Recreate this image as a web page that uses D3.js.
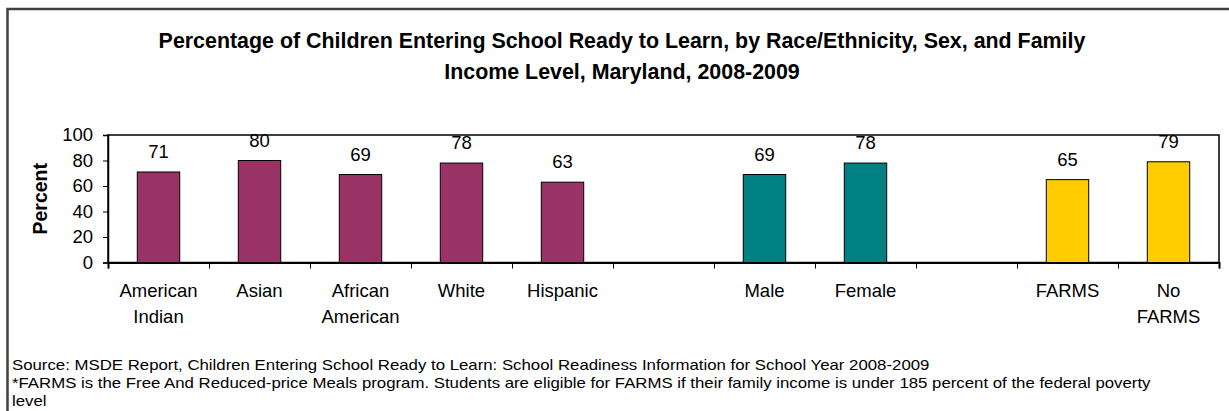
<!DOCTYPE html>
<html>
<head>
<meta charset="utf-8">
<script src="https://cdn.jsdelivr.net/npm/d3@7"></script>
<style>
  body { margin: 0; background: #fff; }
  svg { display: block; font-family: "Liberation Sans", Arial, sans-serif; }
</style>
</head>
<body>
<div id="chart"></div>
<script>
// chart data
var titleLines = ["Percentage of Children Entering School Ready to Learn, by Race/Ethnicity, Sex, and Family",
                  "Income Level, Maryland, 2008-2009"];
var categories = ["American Indian", "Asian", "African American", "White", "Hispanic", "",
                  "Male", "Female", "", "FARMS", "No FARMS"];
var categoryLines = [["American", "Indian"], ["Asian"], ["African", "American"], ["White"], ["Hispanic"], [],
                     ["Male"], ["Female"], [], ["FARMS"], ["No", "FARMS"]];
var values = [71, 80, 69, 78, 63, null, 69, 78, null, 65, 79];
var groups = ["race", "race", "race", "race", "race", null, "sex", "sex", null, "income", "income"];
var groupColors = {race: "#993366", sex: "#008080", income: "#FFCC00"};
var yTicks = [0, 20, 40, 60, 80, 100];
var notes = ["Source: MSDE Report, Children Entering School Ready to Learn: School Readiness Information for School Year 2008-2009",
             "*FARMS is the Free And Reduced-price Meals program. Students are eligible for FARMS if their family income is under 185 percent of the federal poverty",
             "level"];

var W = 1229, H = 411;
var margin = {top: 135, left: 108, right: 10, bottom: 149};

var svg = d3.select("#chart").append("svg")
    .attr("width", W)
    .attr("height", H);

// outer border (only left and top show inside the picture)
svg.append("rect")
    .attr("x", 7.5).attr("y", 9)
    .attr("width", 1300).attr("height", 500)
    .attr("fill", "none")
    .attr("stroke", "#404040")
    .attr("stroke-width", 2.5);

// title
svg.append("g").selectAll("text")
    .data(titleLines)
  .enter().append("text")
    .attr("x", 622)
    .attr("y", function(d, i) { return 48 + i * 31; })
    .attr("text-anchor", "middle")
    .attr("font-size", 21.4)
    .attr("font-weight", "bold")
    .text(function(d) { return d; });

var x = d3.scaleBand()
    .domain(d3.range(categories.length))
    .range([margin.left, W - margin.right])
    .paddingInner(0.58)
    .paddingOuter(0.29);

// boundaries between categories, for the tick marks
var xb = d3.scaleLinear()
    .domain([0, categories.length])
    .range([margin.left, W - margin.right]);

var y = d3.scaleLinear()
    .domain([0, 100])
    .range([H - margin.bottom + 0.5, margin.top]);

// plot frame
svg.append("rect")
    .attr("x", margin.left)
    .attr("y", y(100))
    .attr("width", W - margin.right - margin.left)
    .attr("height", y(0) - y(100))
    .attr("fill", "none")
    .attr("stroke", "#000")
    .attr("stroke-width", 1.5);

// bars
var barData = values.map(function(v, i) { return {i: i, v: v, g: groups[i]}; })
    .filter(function(d) { return d.v != null; });

svg.append("g").selectAll("rect")
    .data(barData)
  .enter().append("rect")
    .attr("x", function(d) { return x(d.i); })
    .attr("y", function(d) { return y(d.v); })
    .attr("width", x.bandwidth())
    .attr("height", function(d) { return y(0) - y(d.v); })
    .attr("fill", function(d) { return groupColors[d.g]; })
    .attr("stroke", "#000")
    .attr("stroke-width", 1);

// value labels
svg.append("g").selectAll("text")
    .data(barData)
  .enter().append("text")
    .attr("x", function(d) { return x(d.i) + x.bandwidth() / 2; })
    .attr("y", function(d) { return y(d.v) - 14; })
    .attr("text-anchor", "middle")
    .attr("font-size", 18.5)
    .text(function(d) { return d.v; });

// y axis
var yAxis = svg.append("g")
    .attr("transform", "translate(" + margin.left + ",0)")
    .call(d3.axisLeft(y).tickValues(yTicks).tickSize(5).tickPadding(10));
yAxis.select(".domain").attr("stroke-width", 1.5);
yAxis.selectAll("text").attr("font-size", 18.5).attr("fill", "#000").attr("font-family", null);

// x axis, ticks on the category boundaries
var xAxis = svg.append("g")
    .attr("transform", "translate(0," + y(0) + ")")
    .call(d3.axisBottom(xb).tickValues(d3.range(categories.length + 1)).tickFormat("").tickSize(6));
xAxis.select(".domain").attr("stroke-width", 2);

// category labels
var catG = svg.append("g").selectAll("text")
    .data(categoryLines)
  .enter().append("text")
    .attr("text-anchor", "middle")
    .attr("font-size", 18.5)
    .attr("x", function(d, i) { return x(i) + x.bandwidth() / 2; })
    .attr("y", 297);
catG.selectAll("tspan")
    .data(function(d) { return d; })
  .enter().append("tspan")
    .attr("x", function() { return d3.select(this.parentNode).attr("x"); })
    .attr("dy", function(d, j) { return j === 0 ? 0 : 26; })
    .text(function(d) { return d; });

// y label
svg.append("text")
    .attr("transform", "translate(47," + ((y(0) + y(100)) / 2) + ") rotate(-90)")
    .attr("text-anchor", "middle")
    .attr("font-size", 19.5)
    .attr("font-weight", "bold")
    .text("Percent");

// footnotes
svg.append("g").selectAll("text")
    .data(notes)
  .enter().append("text")
    .attr("transform", function(d, i) { return "translate(12," + (369.5 + i * 18.3) + ") scale(1.2,1)"; })
    .attr("font-size", 14)
    .text(function(d) { return d; });
</script>
</body>
</html>
